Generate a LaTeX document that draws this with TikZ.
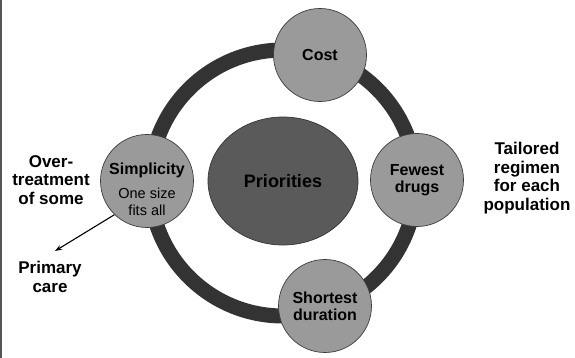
\documentclass[tikz,border=0pt]{standalone}
\usepackage{fontspec}
\setmainfont{Liberation Sans}
\usetikzlibrary{arrows.meta,shapes.geometric}
\definecolor{ringgrey}{HTML}{333333}
\definecolor{bubblegrey}{HTML}{9A9A9A}
\definecolor{coregrey}{HTML}{5A5A5A}
\definecolor{edgegrey}{HTML}{3C3C3C}
\definecolor{framegrey}{HTML}{555555}
\begin{document}
\begin{tikzpicture}[x=1pt,y=-1pt,
  bubble/.style={circle, fill=bubblegrey, draw=edgegrey, line width=0.7pt,
    minimum size=93pt, inner sep=0pt, align=center,
    font=\fontsize{16}{17}\selectfont\bfseries},
  core/.style={ellipse, fill=coregrey, draw=ringgrey, line width=0.7pt,
    minimum width=150pt, minimum height=128pt, inner sep=0pt,
    font=\fontsize{18}{20}\selectfont\bfseries},
  plain/.style={align=center, inner sep=0pt},
  sidelabel/.style={plain, font=\fontsize{17}{18.5}\selectfont\bfseries},
  pointer/.style={-{Stealth[length=7pt,width=5pt]}, line width=1.1pt, black}]
\useasboundingbox (0,0) rectangle (575,358);

% frame edge on the left
\draw[framegrey, line width=2pt] (1,0) -- (1,358);

% the ring joining the four priorities
\coordinate (hub) at (283,183);
\draw[ringgrey, line width=15pt] (hub) circle[radius=133pt];

% centre
\node[core] (prio) at (283,181) {Priorities};

% priorities on the ring
\node[bubble] (cost) at (320,55) {Cost};
\node[bubble] (fewest) at (417,180) {Fewest\\drugs};
\node[bubble] (short) at (325,306) {Shortest\\duration};
\node[bubble] (simp) at (147,181) {};
\node[plain, font=\fontsize{16}{17}\selectfont\bfseries] (simptext) at (147,189)
  {Simplicity\\[7pt]\fontsize{14.5}{16}\selectfont\mdseries One size\\
   \fontsize{14.5}{16}\selectfont\mdseries fits all};

% side labels
\node[sidelabel] (over) at (51,180) {Over-\\treatment\\of some};
\node[sidelabel] (primary) at (50,277) {Primary\\care};
\node[sidelabel] (tailored) at (527,178) {Tailored\\regimen\\for each\\population};

% pointer from simplicity down to primary care
\coordinate (primtop) at (55,251);
\draw[pointer] (simp.226) -- (primtop);
\end{tikzpicture}
\end{document}
